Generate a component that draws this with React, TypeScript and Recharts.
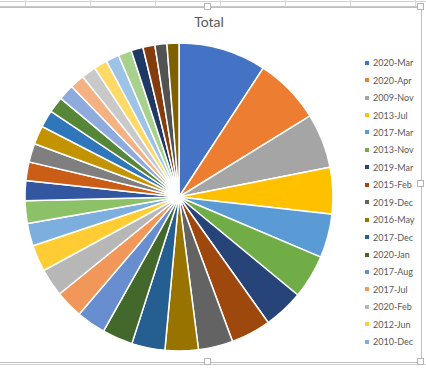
import { Legend, Pie, PieChart, Cell } from "recharts";

const months = [
  "2020-Mar", "2020-Apr", "2009-Nov", "2013-Jul", "2017-Mar", "2013-Nov",
  "2019-Mar", "2015-Feb", "2019-Dec", "2016-May", "2017-Dec", "2020-Jan",
  "2017-Aug", "2017-Jul", "2020-Feb", "2012-Jun", "2010-Dec", "2018-Oct",
  "2016-Jan", "2019-Jun", "2014-Sep", "2018-Mar", "2015-Aug", "2011-Apr",
  "2019-Jan", "2016-Dec", "2013-Mar", "2018-Jul", "2017-Jan", "2014-May",
  "2012-Nov", "2019-Sep", "2015-Oct", "2010-Jun",
];

const totals = [
  66, 50, 41, 35, 33, 33, 30, 30, 26, 25, 25, 23, 22, 21, 21, 20, 17, 17,
  15, 14, 14, 14, 13, 12, 12, 11, 11, 10, 10, 10, 9, 9, 9, 9,
];

const colors = [
  "#4472C4", "#ED7D31", "#A5A5A5", "#FFC000", "#5B9BD5", "#70AD47",
  "#264478", "#9E480E", "#636363", "#997300", "#255E91", "#43682B",
  "#698ED0", "#F1975A", "#B7B7B7", "#FFCD33", "#7CAFDD", "#8CC168",
  "#3257A0", "#CB5E17", "#7F7F7F", "#C49400", "#2F77BA", "#568638",
  "#8FAADC", "#F4B183", "#C9C9C9", "#FFD966", "#9DC3E6", "#A9D18E",
  "#1F3864", "#843C0C", "#525252", "#7F6000",
];

// legend only has room for this many entries, the rest get cut off
const legendRows = 17;

const data = months.map((m, i) => ({ name: m, value: totals[i] }));

const font = "Lato, 'Open Sans', sans-serif";

function Handle({ x, y }: { x: number; y: number }) {
  return (
    <div
      style={{
        position: "absolute",
        left: x - 4,
        top: y - 4,
        width: 7,
        height: 7,
        background: "#fff",
        border: "1px solid #b4b4b4",
        boxSizing: "border-box",
      }}
    />
  );
}

// keep the sheet's order (recharts would sort the payload by name)
function SideLegend() {
  return (
    <div>
      {months.slice(0, legendRows).map((m, i) => (
        <div
          key={m}
          style={{ display: "flex", alignItems: "center", height: 17.45, fontSize: 9, color: "#595959" }}
        >
          <span style={{ width: 4, height: 4, background: colors[i], marginRight: 4, display: "inline-block" }} />
          {m}
        </div>
      ))}
    </div>
  );
}

export default function App() {
  return (
    <div style={{ position: "absolute", left: 0, top: 0, width: 426, height: 369, background: "#fff", overflow: "hidden", fontFamily: font }}>
      {/* sheet gridlines above the chart */}
      <div style={{ position: "absolute", left: 0, top: 1, width: 426, height: 1, background: "#d0d0d0" }} />
      {[25, 90, 155, 220, 285, 350, 415].map((x) => (
        <div key={x} style={{ position: "absolute", left: x, top: 0, width: 1, height: 7, background: "#d8d8d8" }} />
      ))}
      {/* chart frame */}
      <div
        style={{
          position: "absolute",
          left: -2,
          top: 7,
          width: 424,
          height: 356,
          border: "1px solid #bfbfbf",
          boxSizing: "border-box",
          background: "#fff",
        }}
      />
      <div style={{ position: "absolute", left: 0, top: 6, width: 422, height: 1, background: "#c8c8c8" }} />
      <div style={{ position: "absolute", left: 0, top: 364, width: 426, height: 1, background: "#d0d0d0" }} />
      <div style={{ position: "absolute", left: 0, top: 0 }}>
        <PieChart width={426} height={369} margin={{ top: 0, right: 0, bottom: 0, left: 0 }}>
          <text x={209} y={27} textAnchor="middle" fontSize={14} fill="#595959" fontFamily={font}>
            Total
          </text>
          <Pie
            data={data}
            dataKey="value"
            nameKey="name"
            cx={179}
            cy={197}
            outerRadius={154}
            startAngle={90}
            endAngle={-270}
            stroke="#fff"
            strokeWidth={1.5}
            legendType="square"
            isAnimationActive={false}
          >
            {data.map((d, i) => (
              <Cell key={d.name} fill={colors[i]} />
            ))}
          </Pie>
          <Legend
            layout="vertical"
            align="right"
            verticalAlign="top"
            content={<SideLegend />}
            wrapperStyle={{ position: "absolute", left: 365, top: 54, width: 60 }}
          />
        </PieChart>
      </div>
      <Handle x={208} y={7} />
      <Handle x={421} y={7} />
      <Handle x={421} y={184} />
      <Handle x={208} y={362} />
      <Handle x={421} y={362} />
    </div>
  );
}
